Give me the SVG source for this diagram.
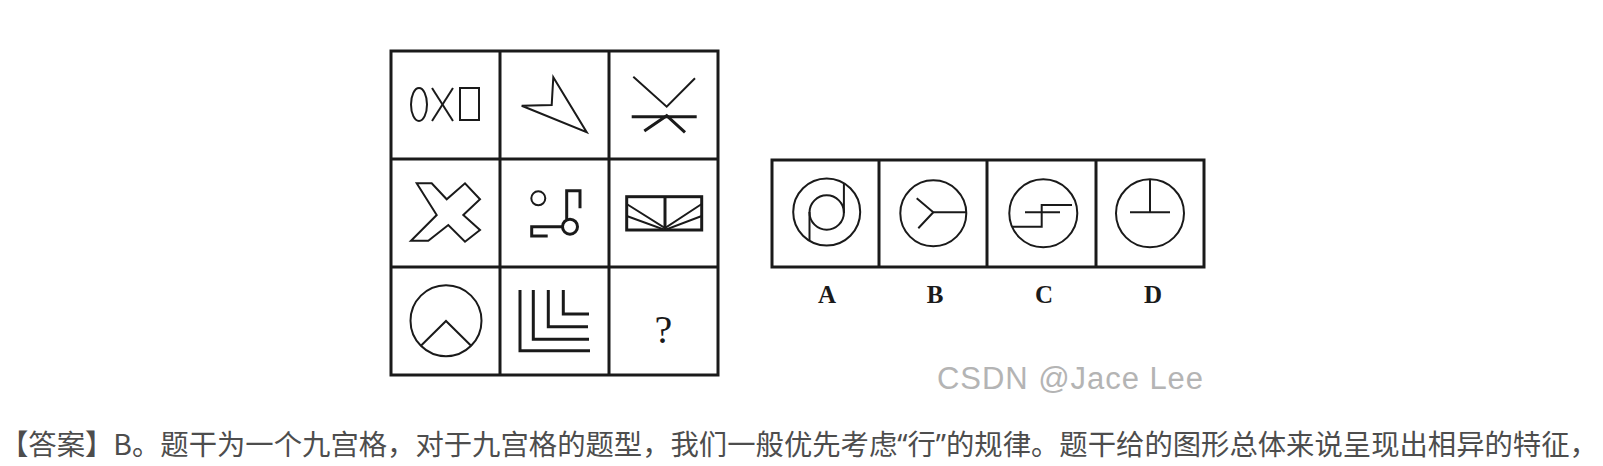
<svg xmlns="http://www.w3.org/2000/svg" width="1603" height="466" viewBox="0 0 1603 466">
<style>
.grid{fill:none;stroke:#1a1a1a;stroke-width:3}
.fig{fill:none;stroke:#1a1a1a;stroke-width:2;stroke-linejoin:miter;stroke-linecap:butt}
.thick{fill:none;stroke:#1a1a1a;stroke-width:3}
.lbl{font-family:"Liberation Serif",serif;font-weight:bold;font-size:25px;fill:#1a1a1a;text-anchor:middle}
.wm{font-family:"Liberation Sans",Arial,sans-serif;font-size:31px;fill:#b4b4b4}
.cap{font-family:"Noto Sans CJK SC","Noto Sans",sans-serif;font-size:28.35px;fill:#4d4d4d}
.q{font-family:"Noto Sans",sans-serif}
</style>
<rect width="1603" height="466" fill="#ffffff"/>
<g id="matrix">
<rect class="grid" x="391" y="51" width="327" height="324"/>
<line class="grid" x1="500" y1="51" x2="500" y2="375"/>
<line class="grid" x1="609" y1="51" x2="609" y2="375"/>
<line class="grid" x1="391" y1="159" x2="718" y2="159"/>
<line class="grid" x1="391" y1="267" x2="718" y2="267"/>
</g>
<g id="cell-1-1">
<ellipse class="fig" cx="419" cy="104.5" rx="8" ry="16.5" stroke-width="2.5"/>
<line class="fig" x1="432" y1="88" x2="453" y2="121" stroke-width="2.5"/>
<line class="fig" x1="453" y1="88" x2="432" y2="121" stroke-width="2.5"/>
<rect class="fig" x="460" y="88" width="19" height="32" stroke-width="2.5"/>
</g>
<g id="cell-1-2">
<polygon class="fig" points="521.7,105.7 551.7,105 553.3,77.3 586.7,132.3"/>
</g>
<g id="cell-1-3">
<polyline class="fig" points="633.3,76.7 666.7,106.7 695,78.3"/>
<line class="thick" x1="631.7" y1="116.7" x2="696.7" y2="116.7"/>
<polyline class="thick" points="644.3,131 666.7,115.7 685,132.3"/>
</g>
<g id="cell-2-1">
<polygon class="fig" points="416.7,183.3 431.7,183.3 446.7,199.3 465,183.3 480,199.3 463.3,215 480,230 465,241.7 448.3,225 428.3,240.7 411,240.7 436.7,215"/>
</g>
<g id="cell-2-2">
<circle class="fig" cx="538.3" cy="198.3" r="7"/>
<polyline class="thick" points="566.7,219.5 566.7,190.7 580,190.7 580,208.3"/>
<circle class="thick" cx="570" cy="226.7" r="7.5"/>
<polyline class="thick" points="562.5,226.7 531.7,226.7 531.7,236 547.7,236"/>
</g>
<g id="cell-2-3">
<rect class="thick" x="626.7" y="196.7" width="75" height="33.3"/>
<line class="thick" x1="665" y1="196.7" x2="665" y2="230"/>
<polyline class="fig" points="626.7,204 665,228 701.7,204"/>
<polyline class="fig" points="626.7,216 665,230 701.7,216"/>
</g>
<g id="cell-3-1">
<circle class="fig" cx="446" cy="320.7" r="35.5"/>
<polyline class="fig" points="420.9,345.8 446,321 471.1,345.8"/>
</g>
<g id="cell-3-2">
<polyline class="thick" points="520,290 520,350.7 590,350.7"/>
<polyline class="thick" points="533.3,290 533.3,339.3 589,339.3"/>
<polyline class="thick" points="548.3,290 548.3,326.7 588,326.7"/>
<polyline class="thick" points="563.3,290 563.3,314 589,314"/>
</g>
<g id="cell-3-3">
<text x="663.5" y="343" font-family="Liberation Serif,serif" font-size="40" fill="#1a1a1a" text-anchor="middle">?</text>
</g>
<g id="options">
<rect class="grid" x="772" y="160" width="432" height="107"/>
<line class="grid" x1="879" y1="160" x2="879" y2="267"/>
<line class="grid" x1="987" y1="160" x2="987" y2="267"/>
<line class="grid" x1="1096" y1="160" x2="1096" y2="267"/>
</g>
<g id="option-A">
<circle class="fig" cx="826.7" cy="212" r="33.5"/>
<circle class="fig" cx="826.7" cy="212.5" r="17.2"/>
<line class="fig" x1="843.9" y1="183.5" x2="843.9" y2="213"/>
<line class="fig" x1="809.5" y1="212" x2="809.5" y2="240.5"/>
<text class="lbl" x="827" y="303">A</text>
</g>
<g id="option-B">
<circle class="fig" cx="933.3" cy="213.3" r="33"/>
<line class="fig" x1="933.3" y1="212.3" x2="966.3" y2="212.3"/>
<polyline class="fig" points="916.7,198.3 933.3,212.3 918.3,228.3"/>
<text class="lbl" x="935" y="303">B</text>
</g>
<g id="option-C">
<circle class="fig" cx="1043.3" cy="213.3" r="34"/>
<line class="fig" x1="1025" y1="212.3" x2="1060" y2="212.3"/>
<polyline class="fig" points="1012,226.7 1041.7,226.7 1041.7,205 1072,205"/>
<text class="lbl" x="1044" y="303">C</text>
</g>
<g id="option-D">
<circle class="fig" cx="1150" cy="213.3" r="34"/>
<line class="fig" x1="1150" y1="179.3" x2="1150" y2="212.3"/>
<line class="fig" x1="1130" y1="212.3" x2="1170" y2="212.3"/>
<text class="lbl" x="1153" y="303">D</text>
</g>
<g id="watermark">
<text class="wm" x="937" y="389" textLength="266" lengthAdjust="spacing">CSDN @Jace Lee</text>
</g>
<g id="caption">
<text class="cap" x="0" y="455">【答案】B。题干为一个九宫格，对于九宫格的题型，我们一般优先考虑<tspan class="q">“</tspan>行<tspan class="q">”</tspan>的规律。题干给的图形总体来说呈现出相异的特征，</text>
</g>
</svg>
